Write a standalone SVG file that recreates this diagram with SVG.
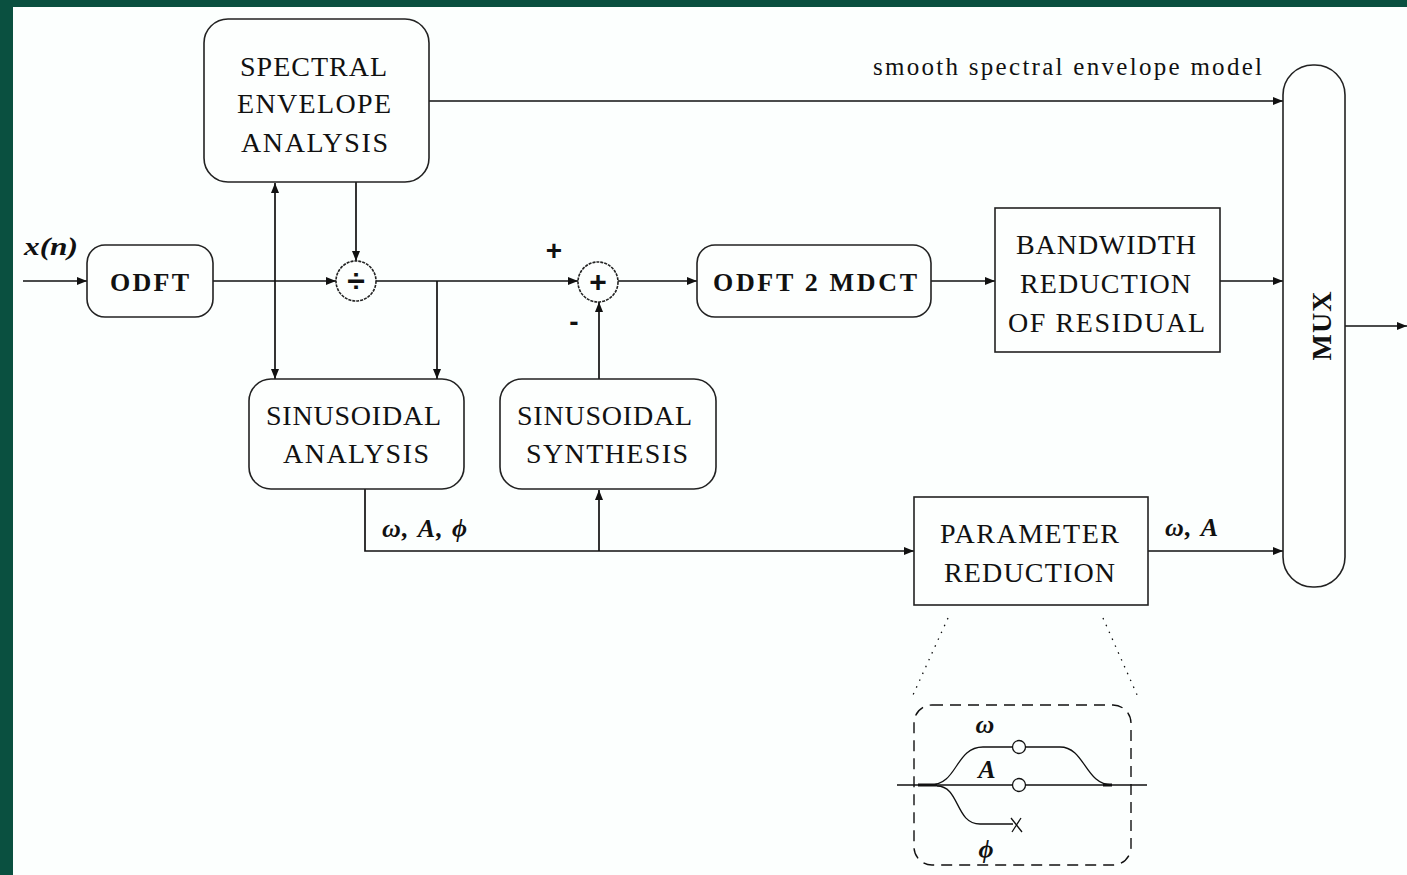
<svg xmlns="http://www.w3.org/2000/svg" width="1407" height="875" viewBox="0 0 1407 875">
  <defs>
    <marker id="arr" viewBox="0 0 10 8" refX="10" refY="4" markerWidth="10" markerHeight="8" markerUnits="userSpaceOnUse" orient="auto">
      <path d="M0,0 L10,4 L0,8 z" fill="#111"/>
    </marker>
    <style>
      .box { fill: #fdfffe; stroke: #222; stroke-width: 1.6; }
      .wire { fill: none; stroke: #111; stroke-width: 1.7; }
      .lbl { font-family: "Liberation Serif", "Times New Roman", serif; font-size: 28px; fill: #111; text-anchor: middle; }
      .blbl { font-family: "Liberation Serif", "Times New Roman", serif; font-size: 26px; font-weight: bold; fill: #111; text-anchor: middle; }
      .math { font-family: "Liberation Serif", "Times New Roman", serif; font-style: italic; font-weight: bold; font-size: 26px; fill: #111; }
      .note { font-family: "Liberation Serif", "Times New Roman", serif; font-size: 25px; fill: #111; }
      .thin { fill: none; stroke: #111; stroke-width: 1.3; }
    </style>
  </defs>

  <!-- page frame -->
  <rect x="0" y="0" width="1407" height="875" fill="#0a5040"/>
  <rect x="13" y="7" width="1394" height="868" fill="#fcfffe"/>

  <!-- signal paths -->
  <g id="connectors">
    <path class="wire" d="M23,281 H87" marker-end="url(#arr)"/>
    <path class="wire" d="M213,281 H336" marker-end="url(#arr)"/>
    <path class="wire" d="M275,280 V183" marker-end="url(#arr)"/>
    <path class="wire" d="M275,280 V379" marker-end="url(#arr)"/>
    <path class="wire" d="M356,182 V261" marker-end="url(#arr)"/>
    <path class="wire" d="M376,281 H578" marker-end="url(#arr)"/>
    <path class="wire" d="M437,281 V379" marker-end="url(#arr)"/>
    <path class="wire" d="M618,281 H697" marker-end="url(#arr)"/>
    <path class="wire" d="M931,281 H995" marker-end="url(#arr)"/>
    <path class="wire" d="M1220,281 H1283" marker-end="url(#arr)"/>
    <path class="wire" d="M429,101 H1283" marker-end="url(#arr)"/>
    <path class="wire" d="M599,379 V302" marker-end="url(#arr)"/>
    <path class="wire" d="M365,489 V551 H914" marker-end="url(#arr)"/>
    <path class="wire" d="M599,551 V490" marker-end="url(#arr)"/>
    <path class="wire" d="M1148,551 H1283" marker-end="url(#arr)"/>
    <path class="wire" d="M1345,326 H1407" marker-end="url(#arr)"/>

    <text class="note" x="873" y="75" textLength="389" lengthAdjust="spacing">smooth spectral envelope model</text>
    <text class="math" x="24" y="255" textLength="54" lengthAdjust="spacingAndGlyphs">x(n)</text>
    <text class="math" x="382" y="537" textLength="85" lengthAdjust="spacing">ω, A, ϕ</text>
    <text class="math" x="1165" y="536" textLength="53" lengthAdjust="spacing">ω, A</text>
    <text x="554" y="260" text-anchor="middle" font-family="Liberation Sans, Arial, sans-serif" font-size="28" font-weight="bold" fill="#111">+</text>
    <text x="574" y="331" text-anchor="middle" font-family="Liberation Sans, Arial, sans-serif" font-size="28" font-weight="bold" fill="#111">-</text>
  </g>

  <g id="spectral-envelope-analysis">
    <rect class="box" x="204" y="19" width="225" height="163" rx="24"/>
    <text class="lbl" x="313.5" y="76" textLength="147" lengthAdjust="spacing">SPECTRAL</text>
    <text class="lbl" x="314" y="113" textLength="154" lengthAdjust="spacing">ENVELOPE</text>
    <text class="lbl" x="314.5" y="152" textLength="147" lengthAdjust="spacing">ANALYSIS</text>
  </g>

  <g id="odft">
    <rect class="box" x="87" y="245" width="126" height="72" rx="18"/>
    <text class="blbl" x="149.5" y="291" textLength="79" lengthAdjust="spacing">ODFT</text>
  </g>

  <g id="divide">
    <circle class="box" cx="356" cy="281" r="20" stroke-dasharray="3 1"/>
    <text x="356" y="292" text-anchor="middle" font-family="Liberation Sans, Arial, sans-serif" font-size="32" font-weight="bold" fill="#111">÷</text>
  </g>

  <g id="sum">
    <circle class="box" cx="598" cy="282" r="20" stroke-dasharray="3 1"/>
    <text x="598" y="292" text-anchor="middle" font-family="Liberation Sans, Arial, sans-serif" font-size="30" font-weight="bold" fill="#111">+</text>
  </g>

  <g id="odft2mdct">
    <rect class="box" x="697" y="245" width="234" height="72" rx="18"/>
    <text class="blbl" x="815" y="291" textLength="204" lengthAdjust="spacing">ODFT 2 MDCT</text>
  </g>

  <g id="bandwidth-reduction">
    <rect class="box" x="995" y="208" width="225" height="144"/>
    <text class="lbl" x="1106" y="254" textLength="180" lengthAdjust="spacing">BANDWIDTH</text>
    <text class="lbl" x="1105.5" y="293" textLength="171" lengthAdjust="spacing">REDUCTION</text>
    <text class="lbl" x="1106.5" y="332" textLength="197" lengthAdjust="spacing">OF  RESIDUAL</text>
  </g>

  <g id="mux">
    <rect class="box" x="1283" y="65" width="62" height="522" rx="30"/>
    <text class="lbl" font-weight="bold" transform="translate(1331,326) rotate(-90)" x="0" y="0" textLength="69" lengthAdjust="spacing">MUX</text>
  </g>

  <g id="sinusoidal-analysis">
    <rect class="box" x="249" y="379" width="215" height="110" rx="22"/>
    <text class="lbl" x="353.5" y="425" textLength="175" lengthAdjust="spacing">SINUSOIDAL</text>
    <text class="lbl" x="356" y="463" textLength="146" lengthAdjust="spacing">ANALYSIS</text>
  </g>

  <g id="sinusoidal-synthesis">
    <rect class="box" x="500" y="379" width="216" height="110" rx="22"/>
    <text class="lbl" x="604.5" y="425" textLength="175" lengthAdjust="spacing">SINUSOIDAL</text>
    <text class="lbl" x="607" y="463" textLength="162" lengthAdjust="spacing">SYNTHESIS</text>
  </g>

  <g id="parameter-reduction">
    <rect class="box" x="914" y="497" width="234" height="108"/>
    <text class="lbl" x="1029.5" y="543" textLength="179" lengthAdjust="spacing">PARAMETER</text>
    <text class="lbl" x="1029.5" y="582" textLength="171" lengthAdjust="spacing">REDUCTION</text>
  </g>

  <!-- detail of the parameter reduction -->
  <g id="parameter-detail">
    <path class="thin" d="M948,618 L913,695 M1103,618 L1138,697" stroke-dasharray="1.5 6"/>
    <rect x="914" y="705" width="217" height="160" rx="18" fill="none" stroke="#111" stroke-width="1.4" stroke-dasharray="11 7"/>
    <path class="thin" d="M897,785 H1013 M1025,785 H1147"/>
    <path d="M918,785 H937 M1103,785 H1112" stroke="#111" stroke-width="3"/>
    <path class="thin" d="M930,785 C958,785 955,747 983,747 H1013 M1025,747 H1060 C1085,747 1085,785 1112,785"/>
    <path class="thin" d="M937,786 C960,786 955,824 980,824 H1013"/>
    <path class="thin" d="M1011,818 L1022,832 M1021,818 L1012,832"/>
    <circle class="thin" cx="1019" cy="747" r="6.5" fill="#fcfffe"/>
    <circle class="thin" cx="1019" cy="785" r="6.5" fill="#fcfffe"/>
    <text class="math" x="985" y="733" text-anchor="middle" font-size="22">ω</text>
    <text class="math" x="987" y="778" text-anchor="middle" font-size="24">A</text>
    <text class="math" x="986" y="858" text-anchor="middle" font-size="24">ϕ</text>
  </g>
</svg>
